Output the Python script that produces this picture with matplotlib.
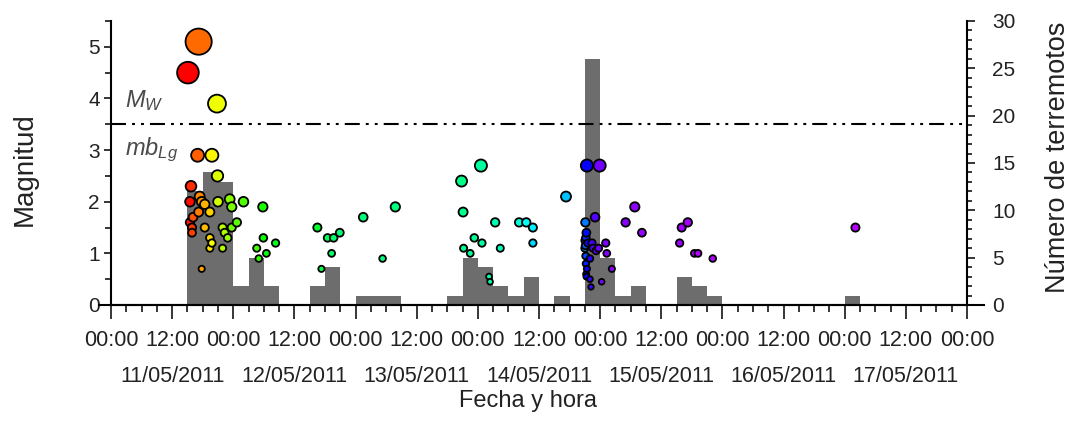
import numpy as np
import matplotlib
matplotlib.use("Agg")
import matplotlib.pyplot as plt
from matplotlib.ticker import MultipleLocator, FixedLocator
import matplotlib.transforms as mtransforms

plt.rcParams['font.family'] = ['Liberation Sans', 'DejaVu Sans']
plt.rcParams['mathtext.fontset'] = 'custom'
plt.rcParams['mathtext.rm'] = 'Liberation Sans'
plt.rcParams['mathtext.it'] = 'Liberation Sans:italic'

# earthquakes: hours since 11/05/2011 00:00 and magnitude
event_hours = [15.1, 15.5, 15.5, 15.7, 15.9, 15.9, 16.1, 17.0, 17.2, 17.2, 17.4,
               17.8, 17.8, 18.4, 18.4, 19.4, 19.4, 19.4, 19.8, 19.8, 20.8, 20.9,
               21.0, 21.9, 21.9, 22.3, 22.9, 23.3, 23.7, 23.7, 24.7, 26.0, 28.6,
               29.0, 29.8, 29.9, 30.5, 32.3,
               40.5, 41.3, 42.5, 43.3, 43.7, 44.9,
               49.5, 53.3, 55.8,
               68.8, 69.1, 69.2, 70.5, 71.3, 72.6, 72.8, 74.2, 74.4, 75.4, 76.4,
               80.1, 81.5, 82.8, 82.8,
               89.3,
               93.0, 93.05, 93.1, 93.1, 93.15, 93.2, 93.2, 93.25, 93.3, 93.3,
               93.4, 93.4, 93.6, 94.0, 94.0, 94.2, 94.4,
               94.6, 95.0, 95.2, 95.7, 95.9, 96.3, 97.1, 97.3, 98.3,
               101.0, 102.8, 104.2,
               111.6, 112.0, 113.2, 114.5, 115.2, 118.1,
               146.1]
event_mag = [4.5, 2.0, 1.6, 2.3, 1.5, 1.4, 1.7, 2.9, 5.1, 1.8, 2.1,
             2.0, 0.7, 1.95, 1.5, 1.8, 1.3, 1.1, 2.9, 1.2, 3.9, 2.5,
             2.0, 1.5, 1.1, 1.4, 1.3, 2.05, 1.9, 1.5, 1.6, 2.0, 1.1,
             0.9, 1.9, 1.3, 1.0, 1.2,
             1.5, 0.7, 1.3, 1.0, 1.3, 1.4,
             1.7, 0.9, 1.9,
             2.4, 1.8, 1.1, 1.0, 1.3, 2.7, 1.2, 0.55, 0.45, 1.6, 1.1,
             1.6, 1.6, 1.5, 1.2,
             2.1,
             1.1, 1.25, 1.6, 1.15, 0.95, 1.3, 0.8, 0.6, 1.4, 0.55,
             2.7, 0.7, 1.2, 0.9, 0.5, 0.35, 1.2,
             1.1, 1.7, 1.05, 1.1, 2.7, 0.45, 1.2, 1.0, 0.7,
             1.6, 1.9, 1.4,
             1.2, 1.5, 1.6, 1.0, 1.0, 0.9,
             1.5]

# number of earthquakes per 3-hour bin (56 bins, 11/05 00:00 - 18/05 00:00)
bin_counts = [0, 0, 0, 0, 0, 12, 14, 13, 2, 5, 2, 0, 0, 2,
              4, 0, 1, 1, 1, 0, 0, 0, 1, 5, 4, 2, 1, 3,
              0, 1, 0, 26, 5, 1, 2, 0, 0, 3, 2, 1, 0, 0,
              0, 0, 0, 0, 0, 0, 1, 0, 0, 0, 0, 0, 0, 0]
bin_hours = 3

day_labels = ['11/05/2011', '12/05/2011', '13/05/2011', '14/05/2011',
              '15/05/2011', '16/05/2011', '17/05/2011']
mw_threshold = 3.5

t = np.array(event_hours)
m = np.array(event_mag)
counts = np.array(bin_counts)
edges = np.arange(len(counts) + 1) * bin_hours

# colour by event order through a rainbow (red -> purple), stretched over the big swarm
rank = np.argsort(np.argsort(t, kind='stable'), kind='stable')
frac = rank / (len(t) - 1)
hue = np.interp(frac, [0, 0.19, 0.33, 0.42, 0.58, 0.6, 0.7, 0.85, 1.0],
                [0, 0.17, 0.30, 0.41, 0.46, 0.5, 0.65, 0.75, 0.8])
colors = plt.cm.hsv(hue)
diam_px = 5.7 * np.exp(0.305 * m)
sizes = (diam_px * 0.72 - 0.6) ** 2

fig = plt.figure(figsize=(10.81, 4.30), dpi=100)
ax = fig.add_axes([111 / 1081, 1 - 305 / 430, (967 - 111) / 1081, (305 - 21) / 430])
ax2 = ax.twinx()
ax.set_zorder(ax2.get_zorder() + 1)
ax.patch.set_visible(False)

ax2.bar(edges[:-1], counts, width=bin_hours, align='edge', color='#6d6d6d',
        edgecolor='none', zorder=1)

ax.axhline(mw_threshold, color='k', lw=1.5, dashes=(7.2, 2.9, 1.4, 2.9, 1.4, 2.9), zorder=2)
ax.scatter(t, m, s=sizes, c=colors, edgecolors='k', linewidths=1.3, zorder=3)

ax.text(2.7, 3.95, r'$M_W$', fontsize=17, color='#4a4a4a', ha='left', va='center')
ax.text(2.7, 3.0, r'$mb_{Lg}$', fontsize=17, color='#4a4a4a', ha='left', va='center')

ax.set_xlim(0, 168)
ax.set_ylim(0, 5.5)
ax2.set_ylim(0, 30)

# x ticks every 12 h, dates in a second row under the noon ticks
major = np.arange(0, 169, 12)
labels = ['12:00' if h % 24 == 12 else '00:00' for h in major]
ax.xaxis.set_major_locator(FixedLocator(major))
ax.set_xticklabels(labels)
ax.xaxis.set_minor_locator(MultipleLocator(3))
trans = mtransforms.blended_transform_factory(ax.transData, ax.transAxes)
for i, d in enumerate(day_labels):
    ax.text(24 * i + 12, -0.252, d, transform=trans, ha='center', va='center',
            fontsize=15.5, color='#222222')

ax.yaxis.set_major_locator(MultipleLocator(1))
ax.yaxis.set_minor_locator(MultipleLocator(0.5))
ax2.yaxis.set_major_locator(MultipleLocator(5))
ax2.yaxis.set_minor_locator(MultipleLocator(1))

ax.tick_params(axis='x', which='major', direction='out', length=10, width=1.1,
               labelsize=15.5, pad=8, labelcolor='#222222')
ax.tick_params(axis='x', which='minor', direction='out', length=5, width=1.1)
ax.tick_params(axis='y', which='major', direction='out', length=5, width=1.1,
               labelsize=15, pad=3, labelcolor='#222222')
ax.tick_params(axis='y', which='minor', direction='out', length=4, width=1.1)
ax2.tick_params(axis='y', which='major', direction='out', length=6, width=1.1,
                labelsize=15, pad=12, labelcolor='#222222')
ax2.tick_params(axis='y', which='minor', direction='out', length=3.5, width=1.1)

for sp in ['top', 'right']:
    ax.spines[sp].set_visible(False)
for sp in ['top', 'left', 'bottom']:
    ax2.spines[sp].set_visible(False)
ax.spines['left'].set_linewidth(1.5)
ax.spines['bottom'].set_linewidth(1.5)
ax2.spines['right'].set_linewidth(1.5)
ax.plot([-0.014, 1.02], [0, 0], transform=ax.transAxes, color='k', lw=1.5,
        clip_on=False, zorder=4)

ax.set_ylabel('Magnitud', fontsize=20, color='#222222')
ax.yaxis.set_label_coords(-0.085, 0.48)
ax2.set_ylabel('Número de terremotos', fontsize=19.5, color='#222222')
ax2.yaxis.set_label_coords(1.091, 0.52)
ax.set_xlabel('Fecha y hora', fontsize=17, color='#222222')
ax.xaxis.set_label_coords((528 - 111) / (967 - 111), -0.30)

fig.savefig('out.png', dpi=100)
